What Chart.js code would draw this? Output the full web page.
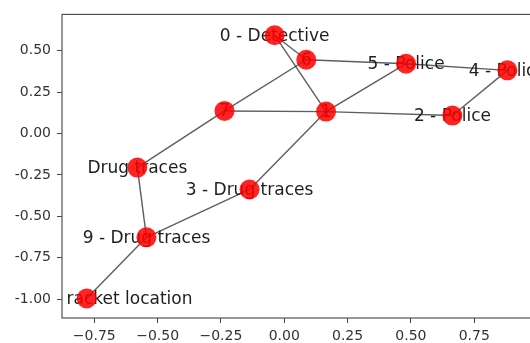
<!DOCTYPE html>
<html>
<head>
<meta charset="utf-8">
<script src="https://cdn.jsdelivr.net/npm/chart.js@4/dist/chart.umd.min.js"></script>
<style>
  html, body { margin: 0; padding: 0; background: #fff; overflow: hidden; }
  #wrap { position: absolute; left: 0; top: 0; width: 545px; height: 343px; }
</style>
</head>
<body>
<div id="wrap"><canvas id="graph"></canvas></div>
<script>
// Node labels, indexed by node id
const nodeLabels = ['0 - Detective', '1', '2 - Police', '3 - Drug traces', '4 - Police', '5 - Police',
                    '6', '7', 'Drug traces', '9 - Drug traces', '10 - Drug racket location'];
// Layout coordinates of each node
const nodeX = [-0.038, 0.165, 0.664, -0.137, 0.881, 0.481, 0.087, -0.236, -0.580, -0.544, -0.780];
const nodeY = [0.593, 0.132, 0.108, -0.338, 0.381, 0.421, 0.445, 0.136, -0.206, -0.627, -0.996];
// Edges, as pairs of node ids
const edgeFrom = [0, 0, 6, 6, 1, 1, 1, 1, 5, 4, 7, 8, 9, 9];
const edgeTo   = [6, 1, 7, 5, 7, 5, 2, 3, 4, 2, 8, 9, 3, 10];
// Axis ticks and limits
const xTicks = [-0.75, -0.5, -0.25, 0, 0.25, 0.5, 0.75];
const yTicks = [-1, -0.75, -0.5, -0.25, 0, 0.25, 0.5];
const xLimits = [-0.8775, 0.990];
const yLimits = [-1.1138, 0.7186];

const FONT = 'DejaVu Sans';
const fmtX = v => (v < 0 ? '\u2212' : '') + Math.abs(v).toFixed(2);
const fmtY = v => (v < 0 ? '-' : '') + Math.abs(v).toFixed(2);

const edgeSets = edgeFrom.map((a, i) => {
  const b = edgeTo[i];
  return {
    data: [{ x: nodeX[a], y: nodeY[a] }, { x: nodeX[b], y: nodeY[b] }],
    showLine: true,
    borderColor: 'rgba(40,40,40,0.75)',
    borderWidth: 1.4,
    pointRadius: 0,
    order: 2
  };
});

const nodeSet = {
  data: nodeX.map((x, i) => ({ x, y: nodeY[i] })),
  pointRadius: 10,
  pointHoverRadius: 10,
  backgroundColor: 'rgba(255,0,0,0.86)',
  borderWidth: 0,
  order: 0
};
const NODE_INDEX = edgeSets.length;

// Axes frame (all four spines)
const framePlugin = {
  id: 'frame',
  beforeDatasetsDraw(chart) {
    const { ctx, chartArea: a } = chart;
    ctx.save();
    ctx.strokeStyle = '#444';
    ctx.lineWidth = 1.1;
    ctx.strokeRect(a.left, a.top, a.right - a.left, a.bottom - a.top);
    ctx.restore();
  }
};

// Node labels, centred on the nodes and clipped to the plot area
const labelPlugin = {
  id: 'nodeLabels',
  beforeDatasetDraw(chart, args) {
    if (args.index !== NODE_INDEX) return;
    const { ctx, chartArea: a, scales } = chart;
    ctx.save();
    ctx.beginPath();
    ctx.rect(a.left, a.top, a.right - a.left, a.bottom - a.top);
    ctx.clip();
    ctx.font = '17px "' + FONT + '"';
    ctx.fillStyle = '#1e1e1e';
    ctx.textAlign = 'center';
    ctx.textBaseline = 'middle';
    nodeLabels.forEach((t, i) => {
      ctx.fillText(t, scales.x.getPixelForValue(nodeX[i]), scales.y.getPixelForValue(nodeY[i]) + 1);
    });
    ctx.restore();
  }
};

new Chart(document.getElementById('graph'), {
  type: 'scatter',
  data: { datasets: [...edgeSets, nodeSet] },
  options: {
    responsive: true,
    maintainAspectRatio: false,
    animation: false,
    events: [],
    layout: { padding: { left: 0, top: 12, right: 9, bottom: 0 } },
    plugins: { legend: { display: false }, tooltip: { enabled: false } },
    scales: {
      x: {
        type: 'linear',
        position: 'bottom',
        min: xLimits[0],
        max: xLimits[1],
        afterBuildTicks: s => { s.ticks = xTicks.map(v => ({ value: v })); },
        afterFit: s => { s.height = 25; },
        border: { display: false },
        grid: { drawOnChartArea: false, drawTicks: true, tickLength: 5, tickColor: '#444', tickWidth: 1 },
        ticks: { font: { family: FONT, size: 14 }, color: '#333', padding: 5, maxRotation: 0,
                 autoSkip: false, callback: v => fmtX(v) }
      },
      y: {
        type: 'linear',
        min: yLimits[0],
        max: yLimits[1],
        afterBuildTicks: s => { s.ticks = yTicks.map(v => ({ value: v })); },
        afterFit: s => { s.width = 62; },
        border: { display: false },
        grid: { drawOnChartArea: false, drawTicks: true, tickLength: 5, tickColor: '#444', tickWidth: 1 },
        ticks: { font: { family: FONT, size: 14 }, color: '#333', padding: 6, autoSkip: false,
                 callback: v => fmtY(v) }
      }
    }
  },
  plugins: [framePlugin, labelPlugin]
});
</script>
</body>
</html>
